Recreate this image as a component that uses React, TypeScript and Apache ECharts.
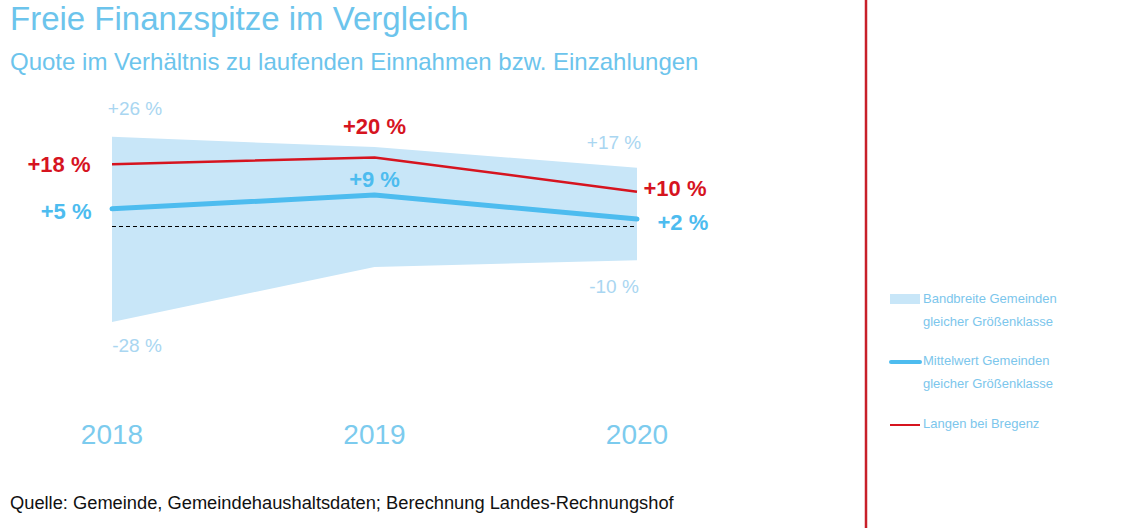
import React, { useEffect, useRef } from "react";
import * as echarts from "echarts";

const years = ["2018", "2019", "2020"];
const bandHigh = [26, 23, 17];
const bandLow = [-28, -12, -10];
const meanValues = [5, 9, 2];
const langenValues = [18, 20, 10];

const title = "Freie Finanzspitze im Vergleich";
const subtitle = "Quote im Verhältnis zu laufenden Einnahmen bzw. Einzahlungen";
const source = "Quelle: Gemeinde, Gemeindehaushaltsdaten; Berechnung Landes-Rechnungshof";
const legendBand = ["Bandbreite Gemeinden", "gleicher Größenklasse"];
const legendMean = ["Mittelwert Gemeinden", "gleicher Größenklasse"];
const legendLangen = "Langen bei Bregenz";

const FONT = "'Liberation Sans', Arial, sans-serif";
const C_TITLE = "#6cc4ec";
const C_BAND = "#c8e6f8";
const C_BANDLBL = "#a9d6f1";
const C_MEAN = "#4dbcef";
const C_RED = "#d6141f";
const C_LEG = "#7cc6ec";

const fmt = (v: number) => (v > 0 ? "+" : "") + v + " %";

export default function App() {
  const ref = useRef<HTMLDivElement>(null);
  useEffect(() => {
    document.body.style.margin = "0";
    const chart = echarts.init(ref.current!, null, { renderer: "svg" });

    const bandLblStyle = { color: C_BANDLBL, fontSize: 19, fontFamily: FONT };
    const highOffsets: any[] = [[23, -13], null, [-23, -10]];
    const lowOffsets: any[] = [[25, 9], null, [-23, 11]];

    const lowData = bandLow.map((v, i) => ({
      value: v,
      label: lowOffsets[i]
        ? { show: true, position: "bottom", offset: lowOffsets[i], formatter: fmt(v), ...bandLblStyle }
        : { show: false },
    }));
    const rangeData = bandHigh.map((v, i) => ({
      value: v - bandLow[i],
      label: highOffsets[i]
        ? { show: true, position: "top", offset: highOffsets[i], formatter: fmt(v), ...bandLblStyle }
        : { show: false },
    }));

    const meanPos: any[] = [
      { position: "left", distance: 20, offset: [0, 3] },
      { position: "top", distance: 4, offset: [0, 0] },
      { position: "right", distance: 20, offset: [0, 3] },
    ];
    const redPos: any[] = [
      { position: "left", distance: 21, offset: [0, 0] },
      { position: "top", distance: 19, offset: [0, 0] },
      { position: "right", distance: 6, offset: [0, -3] },
    ];

    const meanData = meanValues.map((v, i) => ({
      value: v,
      label: { show: true, formatter: fmt(v), color: C_MEAN, fontSize: 22, fontWeight: "bold", fontFamily: FONT, ...meanPos[i] },
    }));
    const redData = langenValues.map((v, i) => ({
      value: v,
      label: { show: true, formatter: fmt(v), color: C_RED, fontSize: 22, fontWeight: "bold", fontFamily: FONT, ...redPos[i] },
    }));

    const hidden = { color: "rgba(0,0,0,0)", borderWidth: 0 };
    const legFont = `13px ${FONT}`;

    chart.setOption({
      animation: false,
      grid: { left: 112, right: 504, top: 106, bottom: 165, containLabel: false },
      xAxis: {
        type: "category",
        data: years,
        boundaryGap: false,
        axisLine: { show: false },
        axisTick: { show: false },
        axisLabel: { color: "#7ccbee", fontSize: 28, fontFamily: FONT, margin: 57 },
        splitLine: { show: false },
      },
      yAxis: {
        type: "value",
        min: -40,
        max: 35,
        axisLine: { show: false },
        axisTick: { show: false },
        axisLabel: { show: false },
        splitLine: { show: false },
      },
      series: [
        {
          type: "line",
          name: "low",
          data: lowData,
          stack: "band",
          stackStrategy: "all",
          symbol: "circle",
          symbolSize: 1,
          showSymbol: true,
          itemStyle: hidden,
          lineStyle: { width: 0, opacity: 0 },
          silent: true,
          z: 1,
        },
        {
          type: "line",
          name: legendBand.join(" "),
          data: rangeData,
          stack: "band",
          stackStrategy: "all",
          symbol: "circle",
          symbolSize: 1,
          showSymbol: true,
          itemStyle: hidden,
          lineStyle: { width: 0, opacity: 0 },
          areaStyle: { color: C_BAND, opacity: 1 },
          silent: true,
          z: 1,
          markLine: {
            silent: true,
            symbol: "none",
            label: { show: false },
            lineStyle: { color: "#000", type: [4, 3], width: 1 },
            data: [{ yAxis: 0 }],
          },
        },
        {
          type: "line",
          name: legendMean.join(" "),
          data: meanData,
          symbol: "circle",
          symbolSize: 1,
          showSymbol: true,
          itemStyle: hidden,
          lineStyle: { color: C_MEAN, width: 5, cap: "round" },
          z: 3,
        },
        {
          type: "line",
          name: legendLangen,
          data: redData,
          symbol: "circle",
          symbolSize: 1,
          showSymbol: true,
          itemStyle: hidden,
          lineStyle: { color: C_RED, width: 2.5 },
          z: 4,
        },
      ],
      graphic: [
        { type: "text", left: 10, top: 2, style: { text: title, fill: C_TITLE, font: `33px ${FONT}` } },
        { type: "text", left: 10, top: 49, style: { text: subtitle, fill: C_TITLE, font: `24px ${FONT}` } },
        { type: "text", left: 10, top: 493, style: { text: source, fill: "#111", font: `18.3px ${FONT}` } },
        { type: "line", shape: { x1: 866, y1: 0, x2: 866, y2: 528 }, style: { stroke: "#c8202a", lineWidth: 2.5 } },
        { type: "rect", shape: { x: 890, y: 294, width: 30, height: 10 }, style: { fill: C_BAND } },
        { type: "text", left: 923, top: 292, style: { text: legendBand[0], fill: C_LEG, font: legFont } },
        { type: "text", left: 923, top: 315, style: { text: legendBand[1], fill: C_LEG, font: legFont } },
        { type: "line", shape: { x1: 891, y1: 362, x2: 920, y2: 362 }, style: { stroke: C_MEAN, lineWidth: 4, lineCap: "round" } },
        { type: "text", left: 923, top: 354, style: { text: legendMean[0], fill: C_LEG, font: legFont } },
        { type: "text", left: 923, top: 377, style: { text: legendMean[1], fill: C_LEG, font: legFont } },
        { type: "line", shape: { x1: 890, y1: 425, x2: 920, y2: 425 }, style: { stroke: C_RED, lineWidth: 2 } },
        { type: "text", left: 923, top: 417, style: { text: legendLangen, fill: C_LEG, font: legFont } },
      ],
    });
    return () => chart.dispose();
  }, []);
  return <div ref={ref} style={{ width: 1141, height: 528 }} />;
}
